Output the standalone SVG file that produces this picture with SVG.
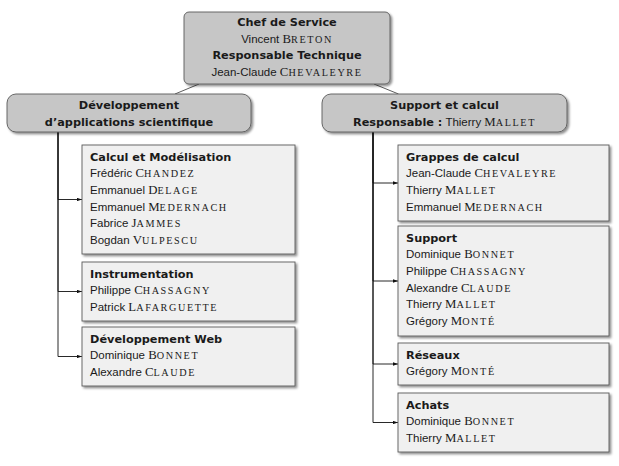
<svg xmlns="http://www.w3.org/2000/svg" width="619" height="466" viewBox="0 0 619 466">
<defs>
<filter id="sh" x="-10%" y="-10%" width="120%" height="130%">
<feDropShadow dx="1.8" dy="1.8" stdDeviation="0.9" flood-color="#000" flood-opacity="0.45"/>
</filter>
<marker id="ar" viewBox="0 0 6 4" refX="6" refY="2" markerWidth="5" markerHeight="3.6" markerUnits="userSpaceOnUse" orient="auto">
<path d="M0,0 L6,2 L0,4 z" fill="#111"/>
</marker>
<style>
.hd{fill:#c6c6c6;stroke:#5a5a5a;stroke-width:0.9;filter:url(#sh)}
.bx{fill:#f0f0f0;stroke:#5a5a5a;stroke-width:0.9;filter:url(#sh)}
text{fill:#1a1a1a}
.b{font-family:"DejaVu Sans",sans-serif;font-weight:bold;font-size:11.3px}
.r{font-family:"Liberation Sans",Arial,sans-serif;font-size:11.5px}
.C{font-family:"Liberation Serif","Times New Roman",serif;font-size:12.8px}
.s{font-family:"Liberation Serif","Times New Roman",serif;font-size:10.2px;letter-spacing:1.6px}
.m{text-anchor:middle}
.ln{fill:none;stroke:#333;stroke-width:0.8}
.ed{fill:none;stroke:#111;stroke-width:0.9;marker-end:url(#ar)}
</style>
</defs>

<g id="connectors">
<path class="ln" d="M199,84 L175,94"/>
<path class="ln" d="M374,84 L398.5,94"/>
<path class="ed" d="M58,132 V199.5 H82"/>
<path class="ed" d="M58,132 V291.5 H82"/>
<path class="ed" d="M58,132 V356.5 H82"/>
<path class="ed" d="M373,132 V183 H398"/>
<path class="ed" d="M373,132 V281 H398"/>
<path class="ed" d="M373,132 V364 H398"/>
<path class="ed" d="M373,132 V422.5 H398"/>
</g>

<g id="chef">
<rect class="hd" x="184" y="12" width="206" height="72" rx="5"/>
<text class="b m" x="287" y="26">Chef de Service</text>
<text class="r m" x="287" y="42.7">Vincent <tspan class="C">B</tspan><tspan class="s">RETON</tspan></text>
<text class="b m" x="287" y="59.4">Responsable Technique</text>
<text class="r m" x="287" y="76.1">Jean-Claude <tspan class="C">C</tspan><tspan class="s">HEVALEYRE</tspan></text>
</g>

<g id="dev">
<rect class="hd" x="7" y="94" width="244" height="38" rx="9"/>
<text class="b m" x="129" y="109">Développement</text>
<text class="b m" x="129" y="125.7">d’applications scientifique</text>
</g>

<g id="support-calcul">
<rect class="hd" x="322" y="94" width="245" height="38" rx="9"/>
<text class="b m" x="444.5" y="109">Support et calcul</text>
<text class="m" x="444.5" y="125.7"><tspan class="b">Responsable :</tspan><tspan class="r"> Thierry </tspan><tspan class="C">M</tspan><tspan class="s">ALLET</tspan></text>
</g>

<g id="calcul">
<rect class="bx" x="82" y="145" width="213" height="109"/>
<text class="b" x="90" y="160.5">Calcul et Modélisation</text>
<text class="r" x="90" y="177.2">Frédéric <tspan class="C">C</tspan><tspan class="s">HANDEZ</tspan></text>
<text class="r" x="90" y="193.9">Emmanuel <tspan class="C">D</tspan><tspan class="s">ELAGE</tspan></text>
<text class="r" x="90" y="210.6">Emmanuel <tspan class="C">M</tspan><tspan class="s">EDERNACH</tspan></text>
<text class="r" x="90" y="227.3">Fabrice <tspan class="C">J</tspan><tspan class="s">AMMES</tspan></text>
<text class="r" x="90" y="244">Bogdan <tspan class="C">V</tspan><tspan class="s">ULPESCU</tspan></text>
</g>

<g id="instrumentation">
<rect class="bx" x="82" y="262" width="213" height="59"/>
<text class="b" x="90" y="277.5">Instrumentation</text>
<text class="r" x="90" y="294.2">Philippe <tspan class="C">C</tspan><tspan class="s">HASSAGNY</tspan></text>
<text class="r" x="90" y="310.9">Patrick <tspan class="C">L</tspan><tspan class="s">AFARGUETTE</tspan></text>
</g>

<g id="devweb">
<rect class="bx" x="82" y="327" width="213" height="59"/>
<text class="b" x="90" y="342.5">Développement Web</text>
<text class="r" x="90" y="359.2">Dominique <tspan class="C">B</tspan><tspan class="s">ONNET</tspan></text>
<text class="r" x="90" y="375.9">Alexandre <tspan class="C">C</tspan><tspan class="s">LAUDE</tspan></text>
</g>

<g id="grappes">
<rect class="bx" x="398" y="145" width="211" height="76"/>
<text class="b" x="406" y="160.5">Grappes de calcul</text>
<text class="r" x="406" y="177.2">Jean-Claude <tspan class="C">C</tspan><tspan class="s">HEVALEYRE</tspan></text>
<text class="r" x="406" y="193.9">Thierry <tspan class="C">M</tspan><tspan class="s">ALLET</tspan></text>
<text class="r" x="406" y="210.6">Emmanuel <tspan class="C">M</tspan><tspan class="s">EDERNACH</tspan></text>
</g>

<g id="support">
<rect class="bx" x="398" y="226" width="211" height="110"/>
<text class="b" x="406" y="241.5">Support</text>
<text class="r" x="406" y="258.2">Dominique <tspan class="C">B</tspan><tspan class="s">ONNET</tspan></text>
<text class="r" x="406" y="274.9">Philippe <tspan class="C">C</tspan><tspan class="s">HASSAGNY</tspan></text>
<text class="r" x="406" y="291.6">Alexandre <tspan class="C">C</tspan><tspan class="s">LAUDE</tspan></text>
<text class="r" x="406" y="308.3">Thierry <tspan class="C">M</tspan><tspan class="s">ALLET</tspan></text>
<text class="r" x="406" y="325">Grégory <tspan class="C">M</tspan><tspan class="s">ONTÉ</tspan></text>
</g>

<g id="reseaux">
<rect class="bx" x="398" y="343" width="211" height="42"/>
<text class="b" x="406" y="358.5">Réseaux</text>
<text class="r" x="406" y="375.2">Grégory <tspan class="C">M</tspan><tspan class="s">ONTÉ</tspan></text>
</g>

<g id="achats">
<rect class="bx" x="398" y="393" width="211" height="59"/>
<text class="b" x="406" y="408.5">Achats</text>
<text class="r" x="406" y="425.2">Dominique <tspan class="C">B</tspan><tspan class="s">ONNET</tspan></text>
<text class="r" x="406" y="441.9">Thierry <tspan class="C">M</tspan><tspan class="s">ALLET</tspan></text>
</g>
</svg>
